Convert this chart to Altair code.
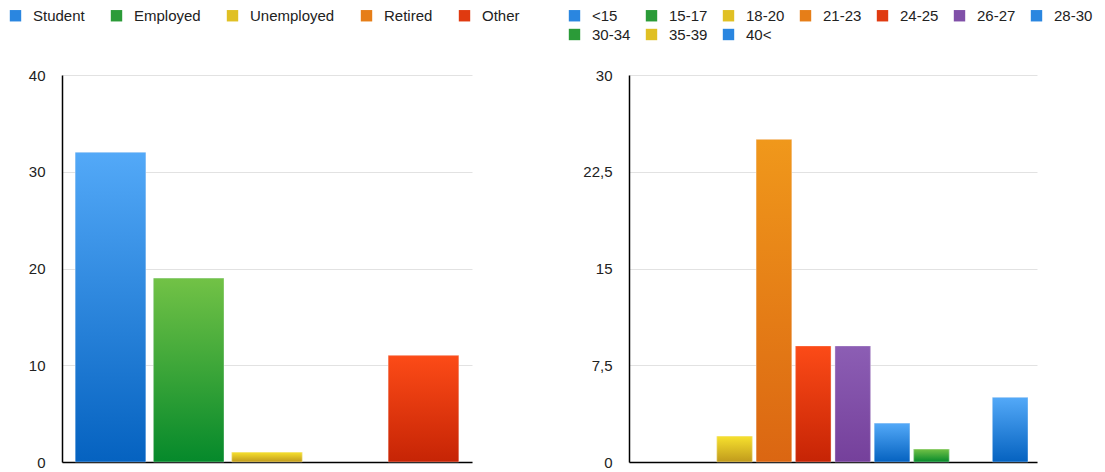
import altair as alt
import pandas as pd

# Occupation breakdown (left panel)
occupations = ["Student", "Employed", "Unemployed", "Retired", "Other"]
occupation_counts = [32, 19, 1, 0, 11]
occupation_colors = ["blue", "green", "yellow", "orange", "red"]

# Age breakdown (right panel)
age_groups = ["<15", "15-17", "18-20", "21-23", "24-25", "26-27", "28-30", "30-34", "35-39", "40<"]
age_counts = [0, 0, 2, 25, 9, 9, 3, 1, 0, 5]
age_colors = ["blue", "green", "yellow", "orange", "red", "purple", "blue", "green", "yellow", "blue"]

# Axis ticks
occupation_ticks = [0, 10, 20, 30, 40]
age_ticks = [0, 7.5, 15, 22.5, 30]

# Colour families: (top of bar, bottom of bar, legend swatch)
PALETTE = {
    "blue": ("#53a9f8", "#0562c0", "#2a86e0"),
    "green": ("#72c246", "#05892b", "#2b9b38"),
    "yellow": ("#f7e12e", "#c09a1c", "#e0c024"),
    "orange": ("#f0981b", "#db6612", "#e67e18"),
    "red": ("#fc4b17", "#c62405", "#e03a10"),
    "purple": ("#8c5eb4", "#75409b", "#8050a8"),
}

FONT = "Liberation Sans"
NO_VIEW = alt.ViewBackground(stroke="transparent", strokeWidth=0, strokeOpacity=0)


def panel(cats, vals, fams, ymax, ticks, width, pad_outer, cols, col_pad, legend_x, legend_y):
    df = pd.DataFrame({"cat": cats, "value": vals})
    x = alt.X(
        "cat:N",
        sort=cats,
        scale=alt.Scale(domain=cats, paddingInner=0.1, paddingOuter=pad_outer),
        axis=alt.Axis(labels=False, ticks=False, title=None, grid=False,
                      domainColor="#000000", domainWidth=1.5),
    )
    y = alt.Y(
        "value:Q",
        scale=alt.Scale(domain=[0, ymax], nice=False, zero=True),
        axis=alt.Axis(values=ticks, title=None, ticks=False, labelPadding=17,
                      labelFont=FONT, labelFontSize=15, labelColor="#222222",
                      labelExpr="replace(toString(datum.value), '.', ',')",
                      domainColor="#000000", domainWidth=1.5,
                      gridColor="#e2e2e2", gridWidth=1),
    )
    base = alt.Chart(df).mark_bar().encode(
        x=x,
        y=y,
        color=alt.Color(
            "cat:N",
            sort=cats,
            scale=alt.Scale(domain=cats, range=[PALETTE[f][2] for f in fams]),
            legend=alt.Legend(
                title=None, orient="none", legendX=legend_x, legendY=legend_y,
                direction="horizontal", columns=cols, columnPadding=col_pad,
                rowPadding=3, symbolType="square", symbolSize=130,
                symbolStrokeWidth=0, labelOffset=10, labelFont=FONT,
                labelFontSize=15, labelColor="#222222", labelLimit=200,
            ),
        ),
    )
    layers = [base]
    for cat, val, fam in zip(cats, vals, fams):
        if val <= 0:
            continue
        top, bottom, _ = PALETTE[fam]
        grad = alt.Gradient(
            gradient="linear",
            stops=[alt.GradientStop(color=top, offset=0),
                   alt.GradientStop(color=bottom, offset=1)],
            x1=0, x2=0, y1=0, y2=1,
        )
        layers.append(
            alt.Chart(df)
            .transform_filter(alt.datum.cat == cat)
            .mark_bar(fill=grad, stroke="#ffffff", strokeOpacity=0.35, strokeWidth=1)
            .encode(x=x, y=y)
        )
    return alt.layer(*layers).properties(width=width, height=387, view=NO_VIEW)


left = panel(occupations, occupation_counts, occupation_colors, 40, occupation_ticks,
             410, 0.17, 5, 24, -54, -67)
right = panel(age_groups, age_counts, age_colors, 30, age_ticks,
              408, 0.23, 7, 13, -62, -67)

chart = (
    alt.hconcat(left, right, spacing=157, bounds="flush")
    .resolve_scale(color="independent", x="independent", y="independent")
    .resolve_legend(color="independent")
    .properties(padding={"left": 8, "top": 8, "right": 0, "bottom": 6})
    .configure_view(stroke="transparent", strokeWidth=0, strokeOpacity=0)
    .configure(background="#ffffff")
)

chart.save("out.html", embed_options={"renderer": "svg", "actions": False})
